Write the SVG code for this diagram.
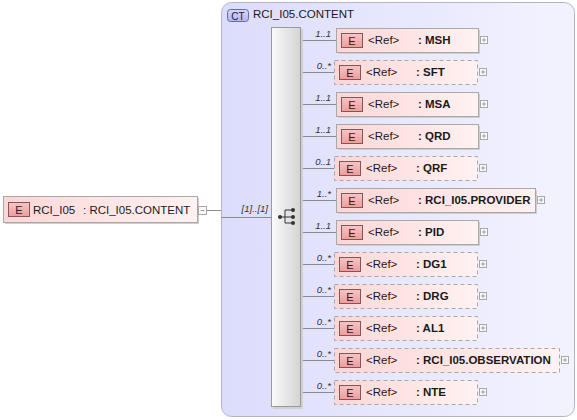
<svg xmlns="http://www.w3.org/2000/svg" width="577" height="420" viewBox="0 0 577 420">
<defs>
<linearGradient id="gEl" x1="0" y1="0" x2="1" y2="0"><stop offset="0" stop-color="#fdd6d6"/><stop offset="1" stop-color="#fff2f2"/></linearGradient>
<linearGradient id="gBadge" x1="0" y1="0" x2="0" y2="1"><stop offset="0" stop-color="#fbc4c4"/><stop offset="1" stop-color="#ee9c9c"/></linearGradient>
<linearGradient id="gCT" x1="0" y1="0" x2="1" y2="0"><stop offset="0" stop-color="#dcdcfc"/><stop offset="1" stop-color="#f3f3ff"/></linearGradient>
<linearGradient id="gSeq" x1="0" y1="0" x2="1" y2="0"><stop offset="0" stop-color="#fafafa"/><stop offset="1" stop-color="#d4d4d4"/></linearGradient>
<linearGradient id="gCTb" x1="0" y1="0" x2="0" y2="1"><stop offset="0" stop-color="#d6d6ff"/><stop offset="1" stop-color="#b4b4f0"/></linearGradient>
</defs>
<style>
text{font-family:"Liberation Sans",Arial,sans-serif;fill:#1a1a1a}
.t{font-size:11.5px}
.b{font-size:11.5px;font-weight:bold}
.card{font-size:9.5px;font-style:italic;fill:#333;text-anchor:end}
.el{fill:url(#gEl);stroke:#a8a8a8;stroke-width:1}
.opt{fill:url(#gEl);stroke:#a8a8a8;stroke-width:1;stroke-dasharray:4,3}
.sh{fill:#cfcfcf}
.badge{fill:url(#gBadge);stroke:#7a5a5a;stroke-width:1}
.bt{font-size:11px;text-anchor:middle;fill:#222}
.pm{fill:#fafafa;stroke:#a8a8a8;stroke-width:1}
.pl{stroke:#a0a0a0;stroke-width:1}
.con{stroke:#8c8c8c;stroke-width:1;fill:none}
</style>

<g id="ct">
<rect x="221.5" y="2.5" width="353" height="414" rx="10" fill="url(#gCT)" stroke="#b4b4c8"/>
<rect x="227.5" y="9.5" width="21" height="12" rx="3" fill="url(#gCTb)" stroke="#6a6aa0"/>
<text x="238" y="19.5" class="bt" style="font-size:10px">CT</text>
<text x="253" y="18" class="t">RCI_I05.CONTENT</text>
</g>

<g id="connectors">
<line class="con" x1="207" y1="210.5" x2="221" y2="210.5"/>
<line class="con" x1="221" y1="217.5" x2="271" y2="217.5"/>
<text x="268" y="212" class="card">[1]..[1]</text>
<line class="con" x1="301" y1="40.5" x2="336" y2="40.5"/>
<line class="con" x1="301" y1="72.5" x2="334" y2="72.5"/>
<line class="con" x1="301" y1="104.5" x2="336" y2="104.5"/>
<line class="con" x1="301" y1="136.5" x2="336" y2="136.5"/>
<line class="con" x1="301" y1="168.5" x2="334" y2="168.5"/>
<line class="con" x1="301" y1="200.5" x2="336" y2="200.5"/>
<line class="con" x1="301" y1="232.5" x2="336" y2="232.5"/>
<line class="con" x1="301" y1="264.5" x2="334" y2="264.5"/>
<line class="con" x1="301" y1="296.5" x2="334" y2="296.5"/>
<line class="con" x1="301" y1="328.5" x2="334" y2="328.5"/>
<line class="con" x1="301" y1="360.5" x2="334" y2="360.5"/>
<line class="con" x1="301" y1="392.5" x2="334" y2="392.5"/>
<text x="331" y="37" class="card">1..1</text>
<text x="331" y="69" class="card">0..*</text>
<text x="331" y="101" class="card">1..1</text>
<text x="331" y="133" class="card">1..1</text>
<text x="331" y="165" class="card">0..1</text>
<text x="331" y="197" class="card">1..*</text>
<text x="331" y="229" class="card">1..1</text>
<text x="331" y="261" class="card">0..*</text>
<text x="331" y="293" class="card">0..*</text>
<text x="331" y="325" class="card">0..*</text>
<text x="331" y="357" class="card">0..*</text>
<text x="331" y="389" class="card">0..*</text>
</g>

<g id="root">
<rect class="sh" x="5" y="198" width="194" height="26"/>
<rect class="el" x="3.5" y="196.5" width="194" height="26"/>
<rect class="badge" x="8.5" y="202.5" width="21" height="14"/>
<text x="19" y="213.5" class="bt">E</text>
<text x="33" y="214" class="t">RCI_I05</text>
<text x="83" y="214" class="t">: RCI_I05.CONTENT</text>
<rect class="pm" x="198.5" y="206.5" width="8" height="8"/>
<line class="pl" x1="200.5" y1="210.5" x2="204.5" y2="210.5"/>
</g>

<g id="sequence">
<rect x="273" y="29" width="30" height="380" fill="#cfcfcf"/>
<rect x="271.5" y="27.5" width="29" height="379" fill="url(#gSeq)" stroke="#9a9a9a"/>
<g fill="#333" stroke="#333" stroke-width="1">
<line x1="280" y1="217" x2="285" y2="217"/>
<line x1="285" y1="210" x2="285" y2="223"/>
<line x1="285" y1="210" x2="293" y2="210"/>
<line x1="285" y1="217" x2="293" y2="217"/>
<line x1="285" y1="223" x2="293" y2="223"/>
<circle cx="280" cy="217" r="2" stroke="none"/>
<circle cx="293" cy="210" r="2" stroke="none"/>
<circle cx="293" cy="217" r="2" stroke="none"/>
<circle cx="293" cy="223" r="2" stroke="none"/>
</g>
</g>

<g id="msh">
<rect class="sh" x="338" y="30" width="142" height="24"/>
<rect class="el" x="336.5" y="28.5" width="142" height="24"/>
<rect class="badge" x="341.5" y="33.5" width="21" height="14"/>
<text x="352" y="44.5" class="bt">E</text>
<text x="368" y="44" class="t">&lt;Ref&gt;</text>
<text x="418" y="44" class="b">: MSH</text>
<rect class="pm" x="480.5" y="36.5" width="7" height="7"/><path class="pl" d="M482 40h4M484 38v4"/>
</g>

<g id="sft">
<rect class="opt" x="334.5" y="60.5" width="143" height="24"/>
<rect class="badge" x="339.5" y="65.5" width="21" height="14"/>
<text x="350" y="76.5" class="bt">E</text>
<text x="366" y="76" class="t">&lt;Ref&gt;</text>
<text x="416" y="76" class="b">: SFT</text>
<rect class="pm" x="479.5" y="68.5" width="7" height="7"/><path class="pl" d="M481 72h4M483 70v4"/>
</g>

<g id="msa">
<rect class="sh" x="338" y="94" width="142" height="24"/>
<rect class="el" x="336.5" y="92.5" width="142" height="24"/>
<rect class="badge" x="341.5" y="97.5" width="21" height="14"/>
<text x="352" y="108.5" class="bt">E</text>
<text x="368" y="108" class="t">&lt;Ref&gt;</text>
<text x="418" y="108" class="b">: MSA</text>
<rect class="pm" x="480.5" y="100.5" width="7" height="7"/><path class="pl" d="M482 104h4M484 102v4"/>
</g>

<g id="qrd">
<rect class="sh" x="338" y="126" width="142" height="24"/>
<rect class="el" x="336.5" y="124.5" width="142" height="24"/>
<rect class="badge" x="341.5" y="129.5" width="21" height="14"/>
<text x="352" y="140.5" class="bt">E</text>
<text x="368" y="140" class="t">&lt;Ref&gt;</text>
<text x="418" y="140" class="b">: QRD</text>
<rect class="pm" x="480.5" y="132.5" width="7" height="7"/><path class="pl" d="M482 136h4M484 134v4"/>
</g>

<g id="qrf">
<rect class="opt" x="334.5" y="156.5" width="143" height="24"/>
<rect class="badge" x="339.5" y="161.5" width="21" height="14"/>
<text x="350" y="172.5" class="bt">E</text>
<text x="366" y="172" class="t">&lt;Ref&gt;</text>
<text x="416" y="172" class="b">: QRF</text>
<rect class="pm" x="479.5" y="164.5" width="7" height="7"/><path class="pl" d="M481 168h4M483 166v4"/>
</g>

<g id="provider">
<rect class="sh" x="338" y="190" width="199" height="24"/>
<rect class="el" x="336.5" y="188.5" width="199" height="24"/>
<rect class="badge" x="341.5" y="193.5" width="21" height="14"/>
<text x="352" y="204.5" class="bt">E</text>
<text x="368" y="204" class="t">&lt;Ref&gt;</text>
<text x="418" y="204" class="b">: RCI_I05.PROVIDER</text>
<rect class="pm" x="537.5" y="196.5" width="7" height="7"/><path class="pl" d="M539 200h4M541 198v4"/>
</g>

<g id="pid">
<rect class="sh" x="338" y="222" width="142" height="24"/>
<rect class="el" x="336.5" y="220.5" width="142" height="24"/>
<rect class="badge" x="341.5" y="225.5" width="21" height="14"/>
<text x="352" y="236.5" class="bt">E</text>
<text x="368" y="236" class="t">&lt;Ref&gt;</text>
<text x="418" y="236" class="b">: PID</text>
<rect class="pm" x="480.5" y="228.5" width="7" height="7"/><path class="pl" d="M482 232h4M484 230v4"/>
</g>

<g id="dg1">
<rect class="opt" x="334.5" y="252.5" width="143" height="24"/>
<rect class="badge" x="339.5" y="257.5" width="21" height="14"/>
<text x="350" y="268.5" class="bt">E</text>
<text x="366" y="268" class="t">&lt;Ref&gt;</text>
<text x="416" y="268" class="b">: DG1</text>
<rect class="pm" x="479.5" y="260.5" width="7" height="7"/><path class="pl" d="M481 264h4M483 262v4"/>
</g>

<g id="drg">
<rect class="opt" x="334.5" y="284.5" width="143" height="24"/>
<rect class="badge" x="339.5" y="289.5" width="21" height="14"/>
<text x="350" y="300.5" class="bt">E</text>
<text x="366" y="300" class="t">&lt;Ref&gt;</text>
<text x="416" y="300" class="b">: DRG</text>
<rect class="pm" x="479.5" y="292.5" width="7" height="7"/><path class="pl" d="M481 296h4M483 294v4"/>
</g>

<g id="al1">
<rect class="opt" x="334.5" y="316.5" width="143" height="24"/>
<rect class="badge" x="339.5" y="321.5" width="21" height="14"/>
<text x="350" y="332.5" class="bt">E</text>
<text x="366" y="332" class="t">&lt;Ref&gt;</text>
<text x="416" y="332" class="b">: AL1</text>
<rect class="pm" x="479.5" y="324.5" width="7" height="7"/><path class="pl" d="M481 328h4M483 326v4"/>
</g>

<g id="observation">
<rect class="opt" x="334.5" y="348.5" width="225" height="24"/>
<rect class="badge" x="339.5" y="353.5" width="21" height="14"/>
<text x="350" y="364.5" class="bt">E</text>
<text x="366" y="364" class="t">&lt;Ref&gt;</text>
<text x="416" y="364" class="b">: RCI_I05.OBSERVATION</text>
<rect class="pm" x="561.5" y="356.5" width="7" height="7"/><path class="pl" d="M563 360h4M565 358v4"/>
</g>

<g id="nte">
<rect class="opt" x="334.5" y="380.5" width="143" height="24"/>
<rect class="badge" x="339.5" y="385.5" width="21" height="14"/>
<text x="350" y="396.5" class="bt">E</text>
<text x="366" y="396" class="t">&lt;Ref&gt;</text>
<text x="416" y="396" class="b">: NTE</text>
<rect class="pm" x="479.5" y="388.5" width="7" height="7"/><path class="pl" d="M481 392h4M483 390v4"/>
</g>
</svg>
